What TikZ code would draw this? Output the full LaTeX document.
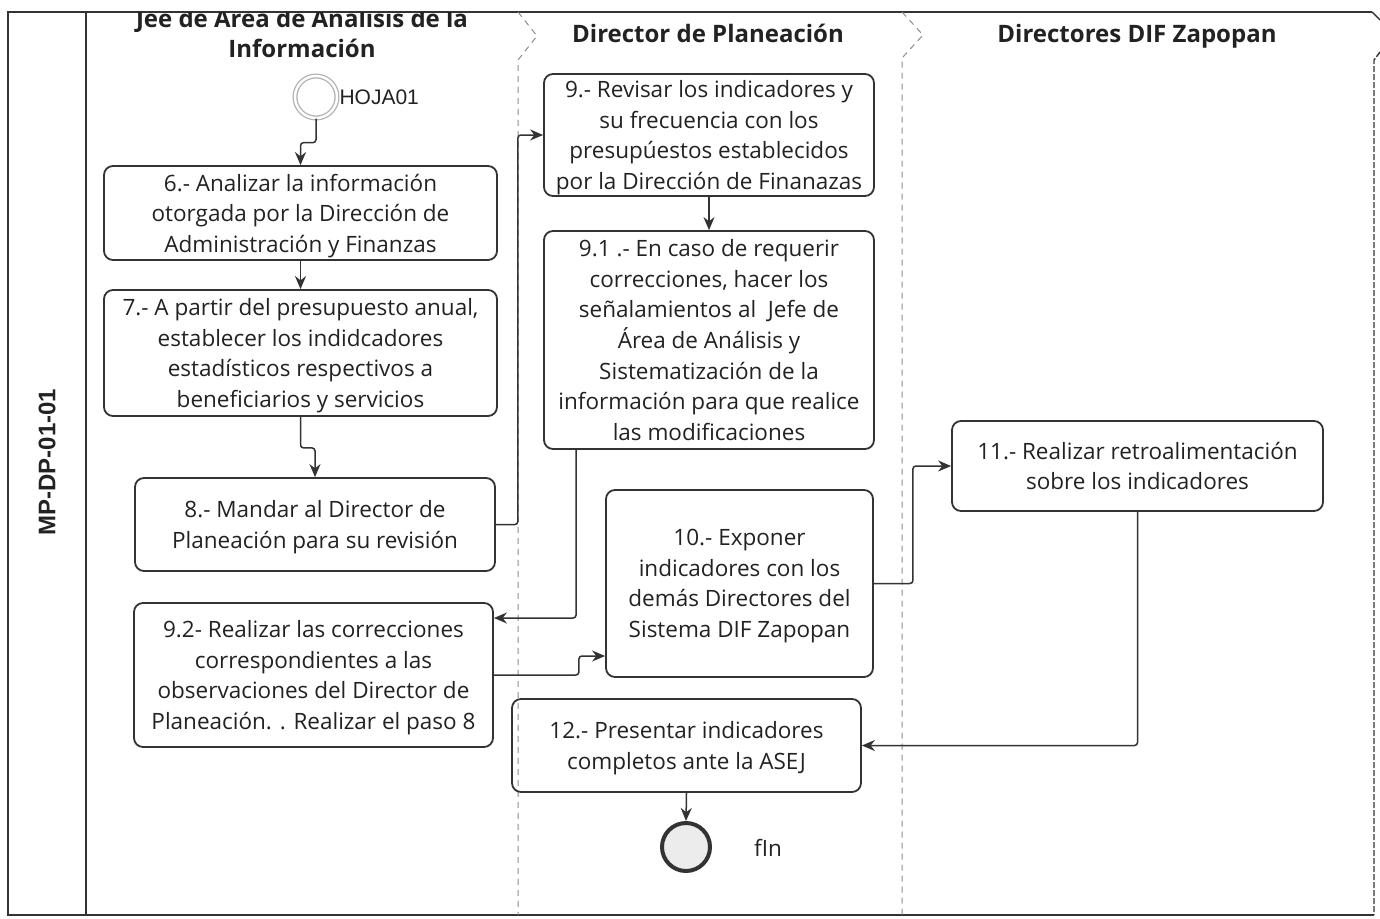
\documentclass[tikz,border=0pt]{standalone}
\usepackage{fontspec}
\setmainfont{Open Sans}
\newfontfamily\arialfont{Liberation Sans}
\usetikzlibrary{arrows.meta,calc}
\definecolor{ink}{HTML}{222222}
\definecolor{edge}{HTML}{333333}
\begin{document}
\begin{tikzpicture}[x=1pt,y=-1pt,
  task/.style={draw=edge, line width=1.8pt, rounded corners=9pt, align=center,
    font=\fontsize{22.5}{30.6}\selectfont, text=ink, inner sep=0pt, text depth=0pt},
  flow/.style={draw=edge, line width=1.5pt, rounded corners=3pt,
    -{Stealth[length=13pt,width=11pt]}},
  lane/.style={draw=gray!90, line width=1pt, dash pattern=on 6pt off 5pt},
  hdr/.style={font=\fontsize{24}{30}\selectfont\bfseries, text=ink, align=center}]
\useasboundingbox (0,0) rectangle (1380,918);
\fill[white] (0,0) rectangle (1380,918);

% pool frame
\draw[edge, line width=1.4pt] (1372,12) -- (8,12) -- (8,915) -- (1374,915);
\draw[edge, line width=1.4pt] (86,12) -- (86,915);
\draw[edge, line width=1.4pt] (1372,12) -- (1380,20);
\draw[edge, line width=1.4pt, dash pattern=on 6pt off 2pt] (1380,52) -- (1374,60) -- (1374,915);
\node[rotate=90, font=\arialfont\fontsize{24}{26}\selectfont\bfseries, text=ink] (pool) at (47,462) {MP-DP-01-01};

% lanes
\draw[lane] (518,12) -- (537,36) -- (518,60) -- (518,915);
\draw[lane] (902,12) -- (923,35) -- (902,58) -- (902,915);

% headers
\begin{scope}
\clip (86,12) rectangle (517,100);
\node[hdr] (h1) at (302,33) {Jee de Area de Analisis de la\\Información};
\end{scope}
\node[hdr, anchor=base] (h2) at (708,42) {Director de Planeación};
\node[hdr, anchor=base] (h3) at (1137,42) {Directores DIF Zapopan};

% events
\node[circle, draw=gray!60, line width=1.3pt, double=white, double distance=2.4pt,
  minimum size=42pt, inner sep=0pt] (start) at (316,97) {};
\node[font=\arialfont\fontsize{21}{24}\selectfont, text=ink, anchor=west] (startlbl) at (336,97) {HOJA01};
\node[circle, draw=edge, line width=4pt, fill=gray!15, minimum size=48pt, inner sep=0pt] (end) at (686,847) {};
\node[font=\fontsize{22.5}{28}\selectfont, text=ink] (endlbl) at (768,848) {fIn};

% tasks
\node[task, minimum width=393pt, minimum height=94pt] (n6) at (300.5,213)
  {6.- Analizar la información\\otorgada por la Dirección de\\Administración y Finanzas};
\node[task, minimum width=393pt, minimum height=126pt] (n7) at (300.5,353)
  {7.- A partir del presupuesto anual,\\establecer los indidcadores\\estadísticos respectivos a\\beneficiarios y servicios};
\node[task, minimum width=360pt, minimum height=93pt] (n8) at (315,524.5)
  {8.- Mandar al Director de\\Planeación para su revisión};
\node[task, minimum width=359pt, minimum height=144pt] (n92) at (313.5,675)
  {9.2- Realizar las correcciones\\correspondientes a las\\observaciones del Director de\\Planeación. . Realizar el paso 8};
\node[task, minimum width=330pt, minimum height=122pt] (n9) at (709,135)
  {9.- Revisar los indicadores y\\su frecuencia con los\\presupúestos establecidos\\por la Dirección de Finanazas};
\node[task, minimum width=330pt, minimum height=218pt] (n91) at (709,340)
  {9.1 .- En caso de requerir\\correcciones, hacer los\\señalamientos al\ \ Jefe de\\Área de Análisis y\\Sistematización de la\\información para que realice\\las modificaciones};
\node[task, minimum width=267pt, minimum height=187pt] (n10) at (739.5,583.5)
  {10.- Exponer\\indicadores con los\\demás Directores del\\Sistema DIF Zapopan};
\node[task, minimum width=371pt, minimum height=90pt] (n11) at (1137.5,466)
  {11.- Realizar retroalimentación\\sobre los indicadores};
\node[task, minimum width=349pt, minimum height=93pt] (n12) at (686.5,745.5)
  {12.- Presentar indicadores\\completos ante la ASEJ};

% flows
\draw[flow] (start.south) -- ++(0,24) -| (n6.north);
\draw[flow] (n6.south) -- (n7.north);
\draw[flow] (n7.south) -- ++(0,31) -| (n8.north);
\draw[flow] (n8.east) -- ++(22,0) |- (n9.west);
\draw[flow] (n9.south) -- (n91.north);
\draw[flow] ([xshift=33pt]n91.south west) |- ([yshift=57pt]n92.east);
\draw[flow] (n92.east) -- ++(85,0) |- ([yshift=-72.5pt]n10.west);
\draw[flow] (n10.east) -- ++(39,0) |- (n11.west);
\draw[flow] (n11.south) |- (n12.east);
\draw[flow] (n12.south) -- (end.north);
\end{tikzpicture}
\end{document}
